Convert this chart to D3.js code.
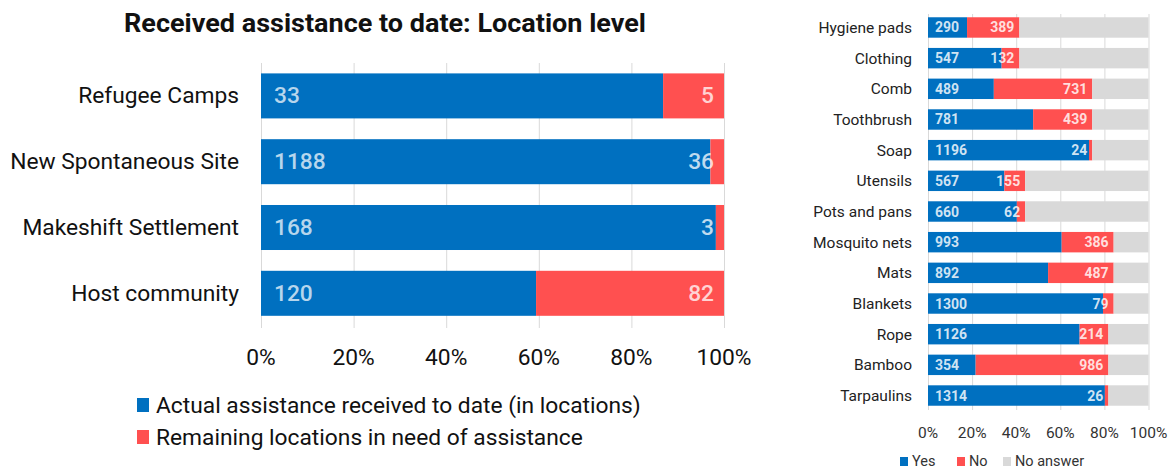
<!DOCTYPE html>
<html><head><meta charset="utf-8">
<script src="https://cdn.jsdelivr.net/npm/d3@7"></script>
<style>body{margin:0;background:#fff;} svg{display:block;}</style>
</head><body>
<svg id="c" width="1175" height="470"></svg>
<script>
// ---- Left chart data ----
const locCategories = ["Refugee Camps","New Spontaneous Site","Makeshift Settlement","Host community"];
const locReceived = [33,1188,168,120];
const locRemaining = [5,36,3,82];
const locTicks = [0,0.2,0.4,0.6,0.8,1];
const locLegend = ["Actual assistance received to date (in locations)","Remaining locations in need of assistance"];
const title = "Received assistance to date: Location level";

// ---- Right chart data ----
const items = ["Hygiene pads","Clothing","Comb","Toothbrush","Soap","Utensils","Pots and pans","Mosquito nets","Mats","Blankets","Rope","Bamboo","Tarpaulins"];
const itemYes = [290,547,489,781,1196,567,660,993,892,1300,1126,354,1314];
const itemNo = [389,132,731,439,24,155,62,386,487,79,214,986,26];
const itemNoAnswer = [959,959,418,418,418,916,916,259,259,259,298,298,298];
const itemLegend = ["Yes","No","No answer"];

const BLUE="#0070C0", RED="#FF5050", GREY="#D9D9D9";
const svg = d3.select("#c");

function ctext(g, x, y, txt, size, anchor, weight, fill, sx){
  return g.append("text").attr("transform",`translate(${x},${y}) scale(${sx},1)`)
    .attr("text-anchor",anchor).attr("font-family","Roboto").attr("font-size",size)
    .attr("font-weight",weight).attr("fill",fill).text(txt);
}
const probe = svg.append("text").attr("font-family","Roboto").attr("font-size",22).text("New Spontaneous Site");
const SX = 229 / probe.node().getComputedTextLength();
probe.remove();
const probe2 = svg.append("text").attr("font-family","Roboto").attr("font-weight","bold").attr("font-size",25).text(title);
const SXT = 522 / probe2.node().getComputedTextLength();
probe2.remove();

// ---- Left chart ----
const L = svg.append("g");
const x1 = d3.scaleLinear().domain([0,1]).range([261,724]);
const y1 = d3.scaleBand().domain(locCategories).range([63,326.2]).paddingInner(0.316).paddingOuter(0.158);

ctext(L, 385, 32, title, 25, "middle", "bold", "#111", SXT);

L.append("g").selectAll("line").data(locTicks).join("line")
  .attr("x1",d=>x1(d)+0.5).attr("x2",d=>x1(d)+0.5).attr("y1",63).attr("y2",328)
  .attr("stroke","#d9d9d9").attr("stroke-width",1);

const locData = locCategories.map((c,i)=>({c, a:locReceived[i], b:locRemaining[i], t:locReceived[i]+locRemaining[i]}));
L.append("g").selectAll("rect").data(locData).join("rect")
  .attr("x",x1(0)).attr("y",d=>y1(d.c)).attr("height",y1.bandwidth())
  .attr("width",d=>x1(d.a/d.t)-x1(0)).attr("fill",BLUE);
L.append("g").selectAll("rect").data(locData).join("rect")
  .attr("x",d=>x1(d.a/d.t)).attr("y",d=>y1(d.c)).attr("height",y1.bandwidth())
  .attr("width",d=>x1(1)-x1(d.a/d.t)).attr("fill",RED);

locData.forEach(d=>{
  const cy = y1(d.c)+y1.bandwidth()/2;
  ctext(L, 239, cy+7.5, d.c, 22, "end", "normal", "#111", SX);
  ctext(L, x1(0)+13, cy+7.5, d.a, 22, "start", "500", "rgba(255,255,255,0.72)", SX);
  ctext(L, x1(1)-10, cy+7.5, d.b, 22, "end", "500", "rgba(255,255,255,0.75)", SX);
});
locTicks.forEach(t=>{
  ctext(L, x1(t), 365, d3.format(".0%")(t), 22, "middle", "normal", "#111", SX);
});
[BLUE,RED].forEach((col,i)=>{
  L.append("rect").attr("x",137).attr("y",398+i*32).attr("width",12).attr("height",14).attr("fill",col);
  ctext(L, 156, 413+i*32, locLegend[i], 22, "start", "normal", "#111", SX);
});

// ---- Right chart ----
const R = svg.append("g");
const x2 = d3.scaleLinear().domain([0,1]).range([928,1148.5]);
const y2 = d3.scaleBand().domain(items).range([14.2,408.8]).paddingInner(0.334).paddingOuter(0.1);
const rTicks = [0,0.2,0.4,0.6,0.8,1];
R.append("g").selectAll("line").data(rTicks).join("line")
  .attr("x1",d=>x2(d)+0.5).attr("x2",d=>x2(d)+0.5).attr("y1",14).attr("y2",410)
  .attr("stroke","#d9d9d9");
const itData = items.map((c,i)=>{const t=itemYes[i]+itemNo[i]+itemNoAnswer[i];return {c,y:itemYes[i],n:itemNo[i],na:itemNoAnswer[i],t};});
itData.forEach(d=>{
  const y0=y2(d.c), h=y2.bandwidth();
  const a=x2(0), b=x2(d.y/d.t), c=x2((d.y+d.n)/d.t), e=x2(1);
  R.append("rect").attr("x",a).attr("y",y0).attr("width",b-a).attr("height",h).attr("fill",BLUE);
  R.append("rect").attr("x",b).attr("y",y0).attr("width",c-b).attr("height",h).attr("fill",RED);
  R.append("rect").attr("x",c).attr("y",y0).attr("width",e-c).attr("height",h).attr("fill",GREY);
  const cy=y0+h/2+5.5;
  R.append("text").attr("x",912).attr("y",cy).attr("text-anchor","end").attr("font-family","Roboto")
    .attr("font-size",15.5).attr("fill","#222").text(d.c);
  R.append("text").attr("x",a+7).attr("y",cy-0.5).attr("font-family","Roboto").attr("font-weight","bold")
    .attr("font-size",14).attr("fill","rgba(255,255,255,0.82)").text(d.y);
  R.append("text").attr("x",c-5).attr("y",cy-0.5).attr("text-anchor","end").attr("font-family","Roboto").attr("font-weight","bold")
    .attr("font-size",14).attr("fill","rgba(255,255,255,0.82)").text(d.n);
});
rTicks.forEach(t=>{
  R.append("text").attr("x",x2(t)).attr("y",438).attr("text-anchor","middle").attr("font-family","Roboto")
    .attr("font-size",15.5).attr("fill","#333").text(d3.format(".0%")(t));
});
const lgX=[900,957,1003];
[BLUE,RED,GREY].forEach((col,i)=>{
  R.append("rect").attr("x",lgX[i]).attr("y",457).attr("width",8).attr("height",9).attr("fill",col);
  R.append("text").attr("x",lgX[i]+12).attr("y",466).attr("font-family","Roboto").attr("font-size",14.5)
    .attr("fill","#333").text(itemLegend[i]);
});
</script>
</body></html>
